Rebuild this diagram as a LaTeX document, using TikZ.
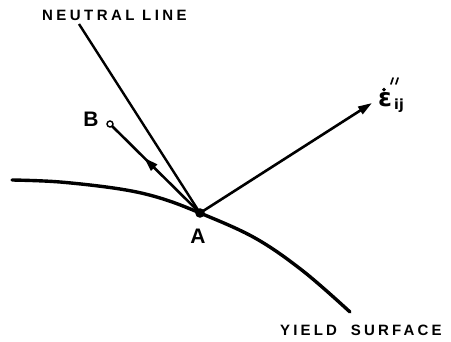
\documentclass[tikz,border=0pt]{standalone}
\usepackage{fontspec}
\setmainfont{Liberation Sans}
\newfontfamily\djv{DejaVu Sans}
\usetikzlibrary{arrows.meta,decorations.markings}
\begin{document}
\begin{tikzpicture}[x=1pt,y=-1pt,
  lbl/.style={inner sep=0pt, font=\fontsize{15}{15}\selectfont\bfseries\addfontfeature{LetterSpace=23}},
  ln/.style={line width=2.6pt},
  tip/.style={-{Triangle[length=14pt,width=8.5pt]}}]
\useasboundingbox (0,0) rectangle (451,342);
% yield surface
\draw[line width=3.4pt, line cap=round] plot[smooth, tension=0.6] coordinates
  {(12,180) (60,182) (120,189) (160,198) (200,213) (255,238) (303,271) (350,312)};
\coordinate (A) at (200,213);
\coordinate (B) at (110,124);
\coordinate (N) at (79,24);
\coordinate (E) at (372,103);
% neutral line
\draw[line width=2.4pt] (N) -- (A);
% arrow to B
\draw[ln, decoration={markings, mark=at position 0.62 with {\arrow{Triangle[length=14pt,width=8.5pt]}}}, postaction={decorate}] (A) -- (B);
\draw[line width=1.4pt, fill=white] (B) circle (3pt);
% strain arrow
\draw[ln, tip] (A) -- (E);
\fill (A) circle (4.8pt);
% labels
\node[lbl, anchor=west] (nl) at (42,15) {NEUTRAL LINE};
\node[lbl, anchor=west, font=\fontsize{15}{15}\selectfont\bfseries\addfontfeature{LetterSpace=21}] (ys) at (280,330) {YIELD\hspace{14pt}SURFACE};
\node[inner sep=0pt, font=\fontsize{21}{21}\selectfont\bfseries] (la) at (198,236) {A};
\node[inner sep=0pt, font=\fontsize{21}{21}\selectfont\bfseries] (lb) at (91,119) {B};
\node[inner sep=0pt, font=\fontsize{25}{25}\djv\bfseries] (le) at (385,100) {ε};
\fill (le.north) ++(-1,-3) circle (1.9pt);
\draw[line width=1.7pt, line cap=round] (393,78) -- (391,84) (398,78) -- (396,84);
\node[inner sep=0pt, anchor=west, font=\fontsize{14}{14}\djv\bfseries] (ij) at (394,106) {ij};
\end{tikzpicture}
\end{document}
